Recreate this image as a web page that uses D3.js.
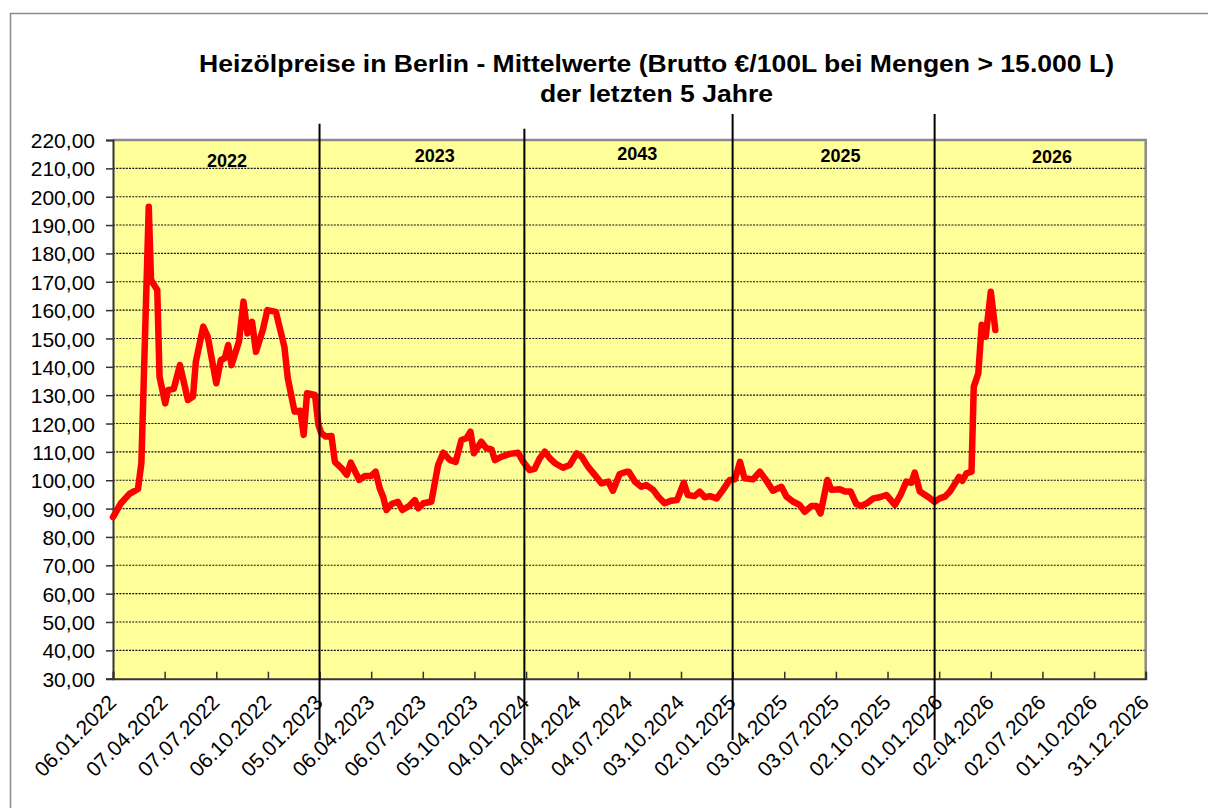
<!DOCTYPE html>
<html>
<head>
<meta charset="utf-8">
<script src="https://cdn.jsdelivr.net/npm/d3@7"></script>
<style>
  body { margin: 0; background: #fff; }
  svg { display: block; font-family: "Liberation Sans", Arial, sans-serif; }
</style>
</head>
<body>
<svg width="1208" height="808"></svg>
<script>
// weekly-ish mean prices (€/100L)
const priceDates = [
  "2022-01-06","2022-01-20","2022-02-04","2022-02-19","2022-02-25","2022-03-10","2022-03-14","2022-03-25",
  "2022-03-29","2022-04-08","2022-04-13","2022-04-23","2022-05-04","2022-05-18","2022-05-27","2022-06-01",
  "2022-06-14","2022-06-22","2022-07-07","2022-07-15","2022-07-22","2022-07-28","2022-08-03","2022-08-16",
  "2022-08-24","2022-08-31","2022-09-08","2022-09-15","2022-09-27","2022-10-05","2022-10-20","2022-11-04",
  "2022-11-10","2022-11-22","2022-12-02","2022-12-08","2022-12-14","2022-12-28","2023-01-03","2023-01-08",
  "2023-01-16","2023-01-26","2023-02-01","2023-02-13","2023-02-22","2023-03-01","2023-03-16","2023-03-26",
  "2023-04-06","2023-04-14","2023-04-21","2023-04-27","2023-05-03","2023-05-12","2023-05-23","2023-05-31",
  "2023-06-12","2023-06-22","2023-06-28","2023-07-07","2023-07-21","2023-08-02","2023-08-11","2023-08-23",
  "2023-09-02","2023-09-12","2023-09-21","2023-09-28","2023-10-04","2023-10-17","2023-10-26","2023-11-04",
  "2023-11-10","2023-11-22","2023-12-06","2023-12-21","2023-12-30","2024-01-10","2024-01-19","2024-01-28",
  "2024-02-06","2024-02-15","2024-02-24","2024-03-09","2024-03-21","2024-04-02","2024-04-11","2024-04-22",
  "2024-05-04","2024-05-16","2024-05-28","2024-06-05","2024-06-17","2024-06-29","2024-07-03","2024-07-14",
  "2024-07-25","2024-08-03","2024-08-15","2024-08-24","2024-09-04","2024-09-16","2024-09-26","2024-10-08",
  "2024-10-15","2024-10-27","2024-11-05","2024-11-14","2024-11-23","2024-12-05","2024-12-16","2024-12-28",
  "2025-01-06","2025-01-15","2025-01-23","2025-02-07","2025-02-19","2025-03-01","2025-03-14","2025-03-29",
  "2025-04-07","2025-04-19","2025-04-30","2025-05-09","2025-05-21","2025-05-30","2025-06-06","2025-06-18",
  "2025-06-25","2025-07-10","2025-07-19","2025-07-29","2025-08-08","2025-08-17","2025-08-27","2025-09-07",
  "2025-09-18","2025-09-30","2025-10-15","2025-10-25","2025-11-04","2025-11-13","2025-11-19","2025-11-28",
  "2025-12-12","2025-12-24","2026-01-02","2026-01-11","2026-01-20","2026-01-29","2026-02-05","2026-02-11",
  "2026-02-18","2026-02-27","2026-03-03","2026-03-11","2026-03-17","2026-03-24","2026-04-02","2026-04-10"
];
const priceValues = [
  87.0, 91.9, 95.2, 96.9, 106.0, 196.5, 170.6, 167.1,
  136.5, 127.1, 131.8, 132.2, 140.6, 128.3, 129.5, 141.8,
  154.2, 150.6, 134.2, 142.4, 143.0, 147.7, 140.6, 148.9,
  163.0, 151.8, 155.9, 145.3, 153.0, 160.0, 159.4, 147.1,
  136.0, 124.2, 124.5, 116.0, 130.7, 130.1, 119.5, 116.6,
  115.4, 115.6, 106.5, 104.2, 101.9, 106.2, 100.1, 101.5,
  101.5, 103.0, 97.2, 94.2, 89.5, 91.6, 92.4, 89.5,
  90.9, 93.0, 90.1, 91.9, 92.4, 105.4, 109.7, 107.1,
  106.5, 114.2, 114.8, 117.1, 109.5, 113.6, 111.3, 110.9,
  107.1, 108.3, 109.3, 109.7, 106.5, 103.6, 104.0, 107.7,
  110.1, 107.7, 106.0, 104.4, 105.4, 109.5, 108.3, 104.8,
  101.9, 98.9, 99.5, 96.3, 102.2, 103.0, 103.0, 99.5,
  97.7, 98.3, 96.6, 94.2, 91.9, 92.8, 93.0, 99.1,
  94.8, 94.4, 96.0, 94.0, 94.4, 93.6, 96.6, 100.1,
  100.3, 106.5, 100.7, 100.3, 103.0, 100.3, 96.3, 97.7,
  94.2, 92.4, 91.3, 88.9, 90.9, 90.9, 88.3, 100.1,
  96.6, 96.8, 96.0, 96.0, 91.6, 90.9, 91.9, 93.6,
  94.0, 94.8, 91.3, 94.8, 99.5, 99.1, 102.7, 96.0,
  94.2, 92.4, 93.6, 94.2, 96.0, 98.9, 101.2, 99.8,
  102.4, 103.0, 133.0, 137.7, 154.8, 150.6, 166.5, 153.0
];

// year separators and their labels
const yearDividers = ["2023-01-05", "2024-01-01", "2025-01-02", "2025-12-24"];
const dividerTops = [225.7, 224.0, 229.2, 229.2];
const yearLabels = ["2022", "2023", "2043", "2025", "2026"];
const yearLabelDates = ["2022-07-26", "2023-07-27", "2024-07-18", "2025-07-11", "2026-07-19"];
const yearLabelValues = [212.6, 214.7, 215.4, 214.7, 214.0];

const xStart = "2022-01-06", xEnd = "2026-12-31";
const yTicks = d3.range(30, 221, 10);

const titleLines = [
  "Heizölpreise in Berlin - Mittelwerte (Brutto €/100L bei Mengen > 15.000 L)",
  "der letzten 5 Jahre"
];

const svg = d3.select("svg");
const parse = d3.utcParse("%Y-%m-%d");
const fmtDate = d3.utcFormat("%d.%m.%Y");

const plot = { left: 113, right: 1145.7, top: 140, bottom: 678.7 };

const x = d3.scaleUtc()
  .domain([parse(xStart), parse(xEnd)])
  .range([plot.left, plot.right]);
const y = d3.scaleLinear()
  .domain([30, 220])
  .range([plot.bottom, plot.top]);

// outer frame
svg.append("rect")
  .attr("x", 10.5).attr("y", 13.5)
  .attr("width", 1300).attr("height", 900)
  .attr("fill", "none").attr("stroke", "#8c8c8c").attr("stroke-width", 1.5);

// title
svg.selectAll("text.title")
  .data(titleLines)
  .join("text")
  .attr("class", "title")
  .attr("x", 656.5)
  .attr("y", (d, i) => 72 + i * 30)
  .attr("text-anchor", "middle")
  .attr("font-size", 24)
  .attr("font-weight", "bold")
  .attr("textLength", (d, i) => i === 0 ? 915 : 233)
  .attr("lengthAdjust", "spacingAndGlyphs")
  .text(d => d);

// plot background
svg.append("rect")
  .attr("x", plot.left).attr("y", plot.top)
  .attr("width", plot.right - plot.left).attr("height", plot.bottom - plot.top)
  .attr("fill", "#ffff99");

// gridlines
svg.append("g")
  .selectAll("line")
  .data(yTicks.filter(v => v > 30 && v < 220))
  .join("line")
  .attr("x1", plot.left).attr("x2", plot.right)
  .attr("y1", d => y(d)).attr("y2", d => y(d))
  .attr("stroke", "#111").attr("stroke-width", 1.1)
  .attr("stroke-dasharray", "2,1.2");

// gray border top/right
svg.append("path")
  .attr("d", `M${plot.left},${plot.top}H${plot.right}V${plot.bottom}`)
  .attr("fill", "none").attr("stroke", "#8a8a8a").attr("stroke-width", 2.5);

// y axis
const yAxis = svg.append("g")
  .attr("transform", `translate(${plot.left},0)`)
  .call(d3.axisLeft(y)
    .tickValues(yTicks)
    .tickSize(7)
    .tickPadding(11)
    .tickFormat(d => d.toFixed(2).replace(".", ",")));
yAxis.select(".domain").attr("stroke", "#333").attr("stroke-width", 2);
yAxis.selectAll(".tick line").attr("stroke", "#333").attr("stroke-width", 1.5);
yAxis.selectAll("text")
  .attr("font-family", "Liberation Sans, Arial, sans-serif")
  .attr("font-size", 21).attr("fill", "#000")
  .attr("dy", "0.36em");

// x axis
const xTicks = d3.range(0, 21).map(i => d3.utcDay.offset(parse(xStart), i * 91));
const xAxis = svg.append("g")
  .attr("transform", `translate(0,${plot.bottom})`)
  .call(d3.axisBottom(x)
    .tickValues(xTicks)
    .tickSize(-7)
    .tickFormat(fmtDate));
xAxis.select(".domain").attr("stroke", "#333").attr("stroke-width", 2);
xAxis.selectAll(".tick line").attr("stroke", "#333").attr("stroke-width", 1.5);
xAxis.selectAll("text")
  .attr("font-family", "Liberation Sans, Arial, sans-serif")
  .attr("font-size", 21).attr("fill", "#000")
  .attr("text-anchor", "end")
  .attr("y", 0).attr("dy", 0)
  .attr("transform", "translate(4,25) rotate(-45)");

// price line
const series = priceDates.map((d, i) => ({ date: parse(d), value: priceValues[i] }));
const line = d3.line()
  .x(d => x(d.date))
  .y(d => y(d.value));

svg.append("path")
  .datum(series)
  .attr("d", line)
  .attr("fill", "none")
  .attr("stroke", "#ff0000")
  .attr("stroke-width", 6.5)
  .attr("stroke-linejoin", "round")
  .attr("stroke-linecap", "round");

// year dividers
svg.append("g")
  .selectAll("line")
  .data(yearDividers)
  .join("line")
  .attr("x1", d => x(parse(d))).attr("x2", d => x(parse(d)))
  .attr("y1", (d, i) => y(dividerTops[i]))
  .attr("y2", y(8.4))
  .attr("stroke", "#000").attr("stroke-width", 2);

// year labels
svg.append("g")
  .selectAll("text")
  .data(yearLabels)
  .join("text")
  .attr("x", (d, i) => x(parse(yearLabelDates[i])))
  .attr("y", (d, i) => y(yearLabelValues[i]))
  .attr("dy", "0.36em")
  .attr("text-anchor", "middle")
  .attr("font-size", 18)
  .attr("font-weight", "bold")
  .text(d => d);
</script>
</body>
</html>
